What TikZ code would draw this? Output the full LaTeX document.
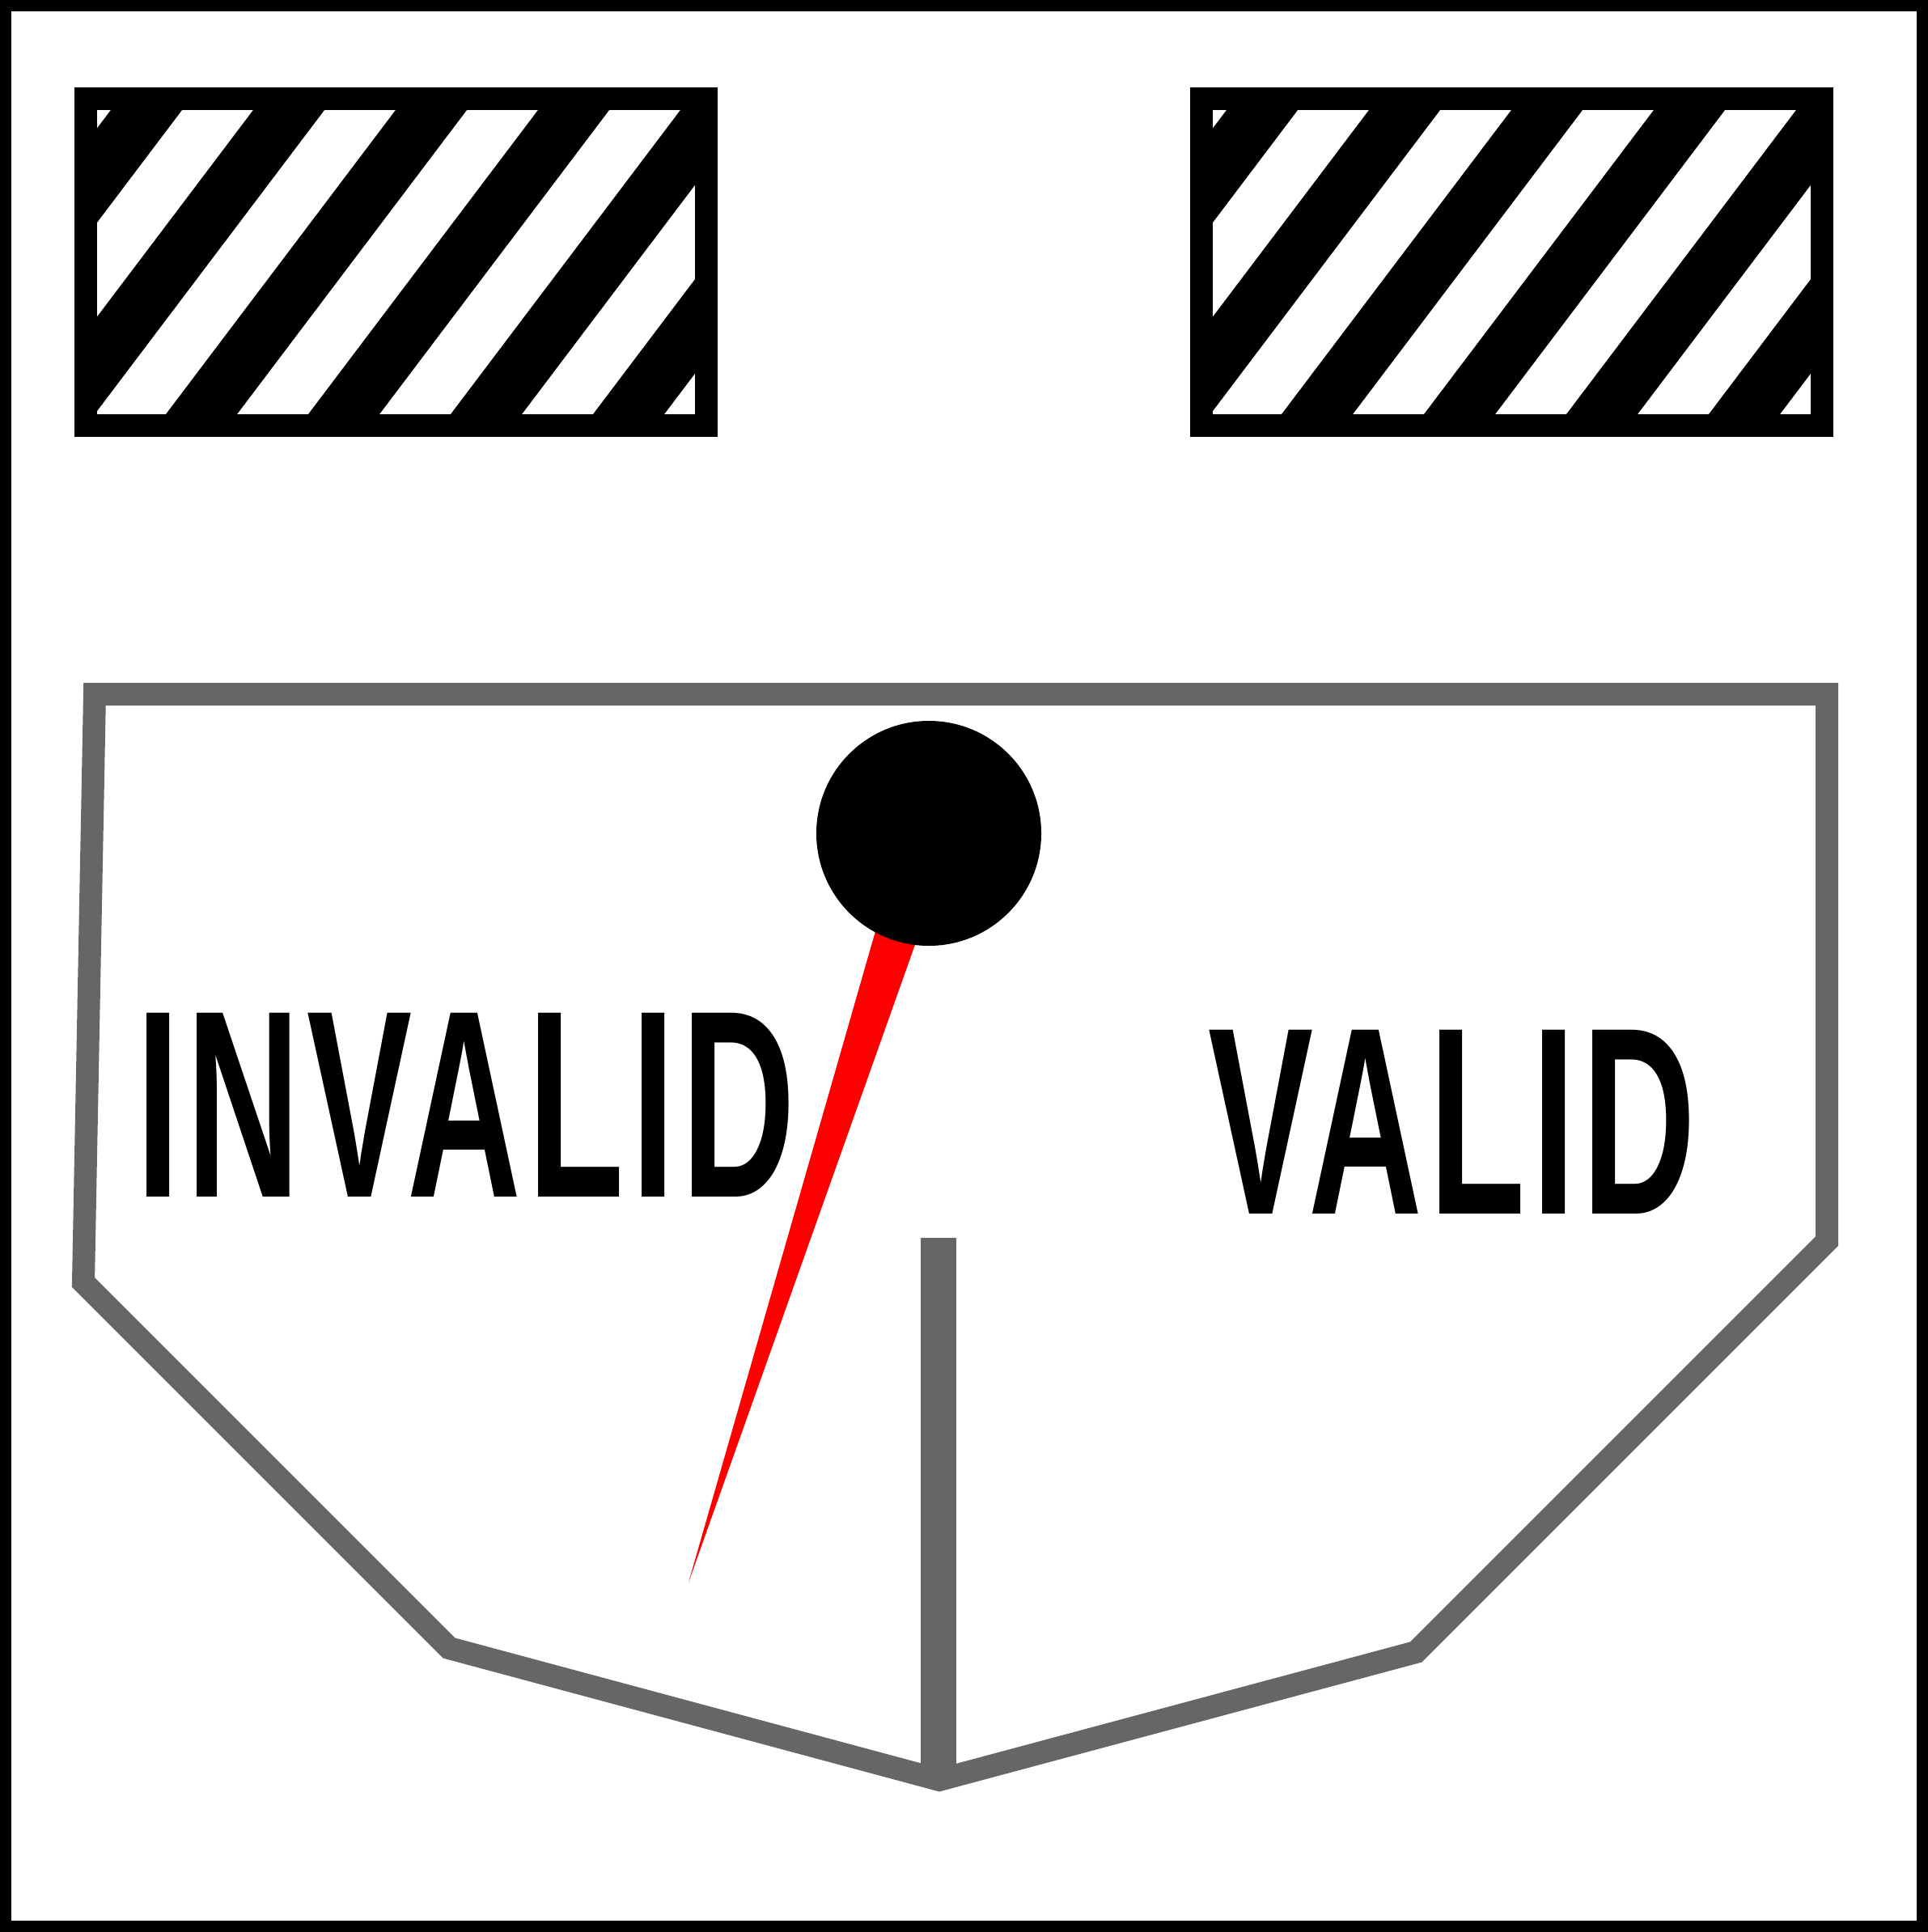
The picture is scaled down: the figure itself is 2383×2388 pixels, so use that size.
\documentclass[tikz,border=0pt]{standalone}
\usepackage{fontspec}
\usepackage{xcolor}
\usepackage{tikz}
\usetikzlibrary{positioning}
\newfontfamily\dialfont[FakeStretch=0.59,LetterSpace=2.5]{Liberation Sans}
\definecolor{dialgray}{HTML}{666666}

\begin{document}
\begin{tikzpicture}[x=0.1mm,y=-0.1mm]
  \tikzstyle{outerframe}=[draw=black,line width=1.4mm]
  \tikzstyle{hazard}=[draw=black,line width=2.8mm]
  \tikzstyle{stripe}=[fill=black]
  \tikzstyle{dial}=[draw=dialgray,line width=2.8mm,miter limit=10]
  \tikzstyle{dialtext}=[font=\dialfont\bfseries\fontsize{94}{94}\selectfont,anchor=base,inner sep=0pt]
  \useasboundingbox (0,0) rectangle (2383,2388);
  \draw[outerframe] (7,7) rectangle (2376,2381);
  \foreach \dx in {0,1379} {
    \begin{scope}[shift={(\dx,0)}]
      \begin{scope}
        \clip (120,136) rectangle (859,512);
        \foreach \a in {137,313,...,1017}
          \fill[stripe] (\a,136) -- ++(88,0) -- ++(-284,376) -- ++(-88,0) -- cycle;
      \end{scope}
      \draw[hazard] (106,122) rectangle (873,526);
    \end{scope}
  }
  \draw[dial] (117,858) -- (103,1585) -- (555,2037) -- (1161,2200) -- (1750,2042) -- (2258,1534) -- (2258,858) -- cycle;
  \coordinate (zero) at (1160,1530);
  \coordinate (base) at (1160,2200);
  \draw[dialgray,line width=4.4mm] (zero) -- (base);
  \fill[red] (851,1956) -- (1119.4,1020.8) -- (1176.6,1039.2) -- cycle;
  \node[circle,fill=black,minimum size=27.8mm,inner sep=0pt] (hub) at (1148,1030) {};
  \node[dialtext] (invalid) at (576,1479) {INVALID};
  \node[dialtext] (valid) at (1795,1500) {VALID};
\end{tikzpicture}
\end{document}
